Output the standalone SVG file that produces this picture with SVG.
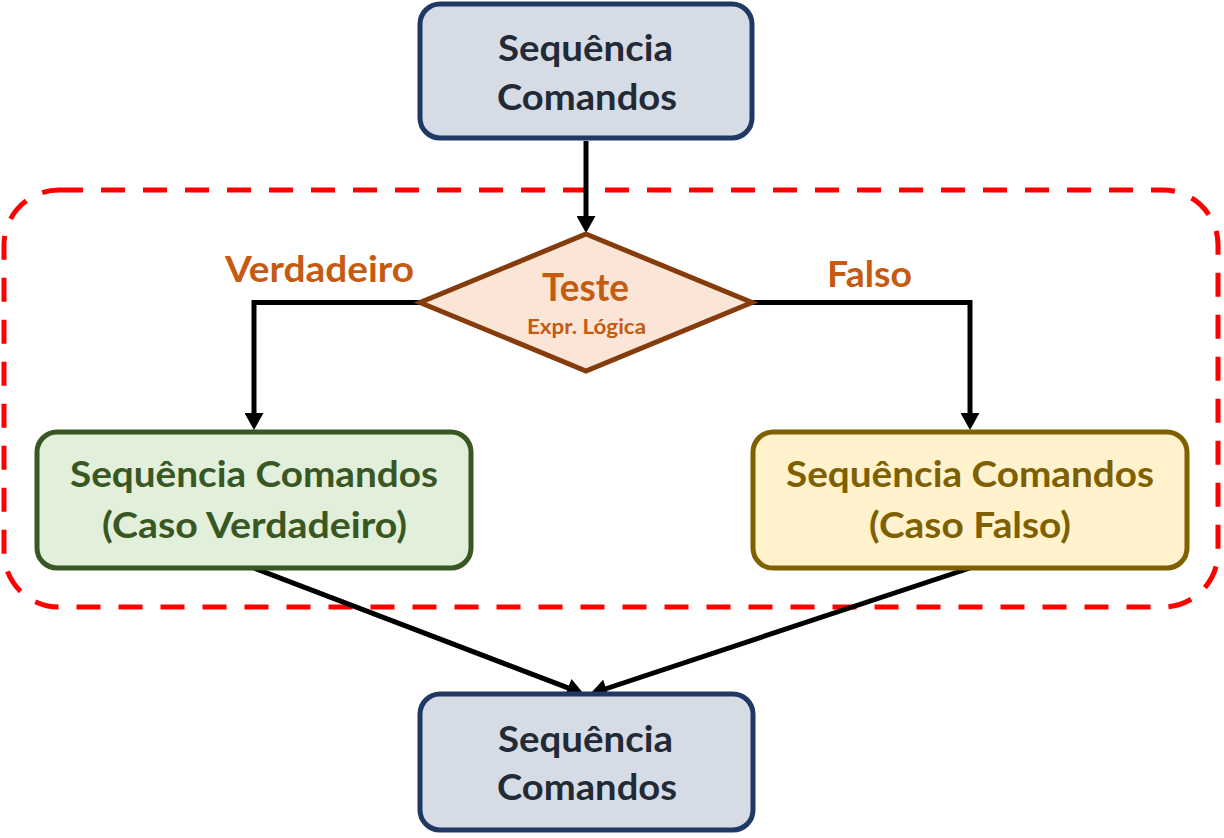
<svg xmlns="http://www.w3.org/2000/svg" width="1224" height="838" viewBox="0 0 1224 838">
<defs>
<marker id="arr" markerUnits="userSpaceOnUse" markerWidth="18" markerHeight="19" viewBox="0 0 17 19" refX="9" refY="9.5" orient="auto">
<path d="M0,0 L17,9.5 L0,19 Z" fill="#000"/>
</marker>
<style>
text{font-family:Lato,"Open Sans","Liberation Sans",sans-serif;font-weight:bold;text-anchor:middle}
.gray rect{fill:#D6DCE5;stroke:#1F3864;stroke-width:5}
.gray text{fill:#222A35;font-size:37px}
.lbl{fill:#C55A11;font-size:37px}
.conn path{fill:none;stroke:#000;stroke-width:5;marker-end:url(#arr)}
</style>
</defs>
<rect id="regiao" x="4" y="190" width="1214" height="417" rx="55" ry="55" fill="none" stroke="#FF0000" stroke-width="5" stroke-dasharray="24 18"/>
<g id="conectores" class="conn">
<path d="M586,141 V225"/>
<path d="M420,302.5 H254 V422"/>
<path d="M752,302.5 H970 V422"/>
<path d="M254,568 L576.5,691.2"/>
<path d="M970,568 L597.6,691.5"/>
</g>
<g id="inicio" class="gray">
<rect x="420" y="4" width="332" height="134" rx="20"/>
<text x="585.5" y="61" textLength="175" lengthAdjust="spacingAndGlyphs">Sequência</text>
<text x="587" y="110" textLength="180" lengthAdjust="spacingAndGlyphs">Comandos</text>
</g>
<g id="teste">
<polygon points="586,234 752,302.5 586,371 420,302.5" fill="#FBE5D6" stroke="#843C0C" stroke-width="5" stroke-linejoin="miter"/>
<text x="585.5" y="301" fill="#C55A11" font-size="38" textLength="87" lengthAdjust="spacingAndGlyphs">Teste</text>
<text x="586.5" y="334" fill="#C55A11" font-size="21" textLength="119" lengthAdjust="spacingAndGlyphs">Expr. Lógica</text>
</g>
<text id="lbl-verdadeiro" class="lbl" x="319.5" y="282" textLength="189" lengthAdjust="spacingAndGlyphs">Verdadeiro</text>
<text id="lbl-falso" class="lbl" x="869.5" y="287" textLength="85" lengthAdjust="spacingAndGlyphs">Falso</text>
<g id="caso-verdadeiro">
<rect x="37" y="432" width="434" height="136" rx="20" fill="#E2EFDA" stroke="#385723" stroke-width="5"/>
<text x="254" y="487" fill="#385723" font-size="37" textLength="368" lengthAdjust="spacingAndGlyphs">Sequência Comandos</text>
<text x="254.5" y="538" fill="#385723" font-size="37" textLength="305" lengthAdjust="spacingAndGlyphs">(Caso Verdadeiro)</text>
</g>
<g id="caso-falso">
<rect x="753" y="432" width="434" height="136" rx="20" fill="#FFF2CC" stroke="#7F6000" stroke-width="5"/>
<text x="970" y="487" fill="#7F6000" font-size="37" textLength="368" lengthAdjust="spacingAndGlyphs">Sequência Comandos</text>
<text x="970" y="538" fill="#7F6000" font-size="37" textLength="202" lengthAdjust="spacingAndGlyphs">(Caso Falso)</text>
</g>
<g id="fim" class="gray">
<rect x="420" y="694" width="333" height="136" rx="20"/>
<text x="585.5" y="752" textLength="175" lengthAdjust="spacingAndGlyphs">Sequência</text>
<text x="587" y="800" textLength="180" lengthAdjust="spacingAndGlyphs">Comandos</text>
</g>
</svg>
